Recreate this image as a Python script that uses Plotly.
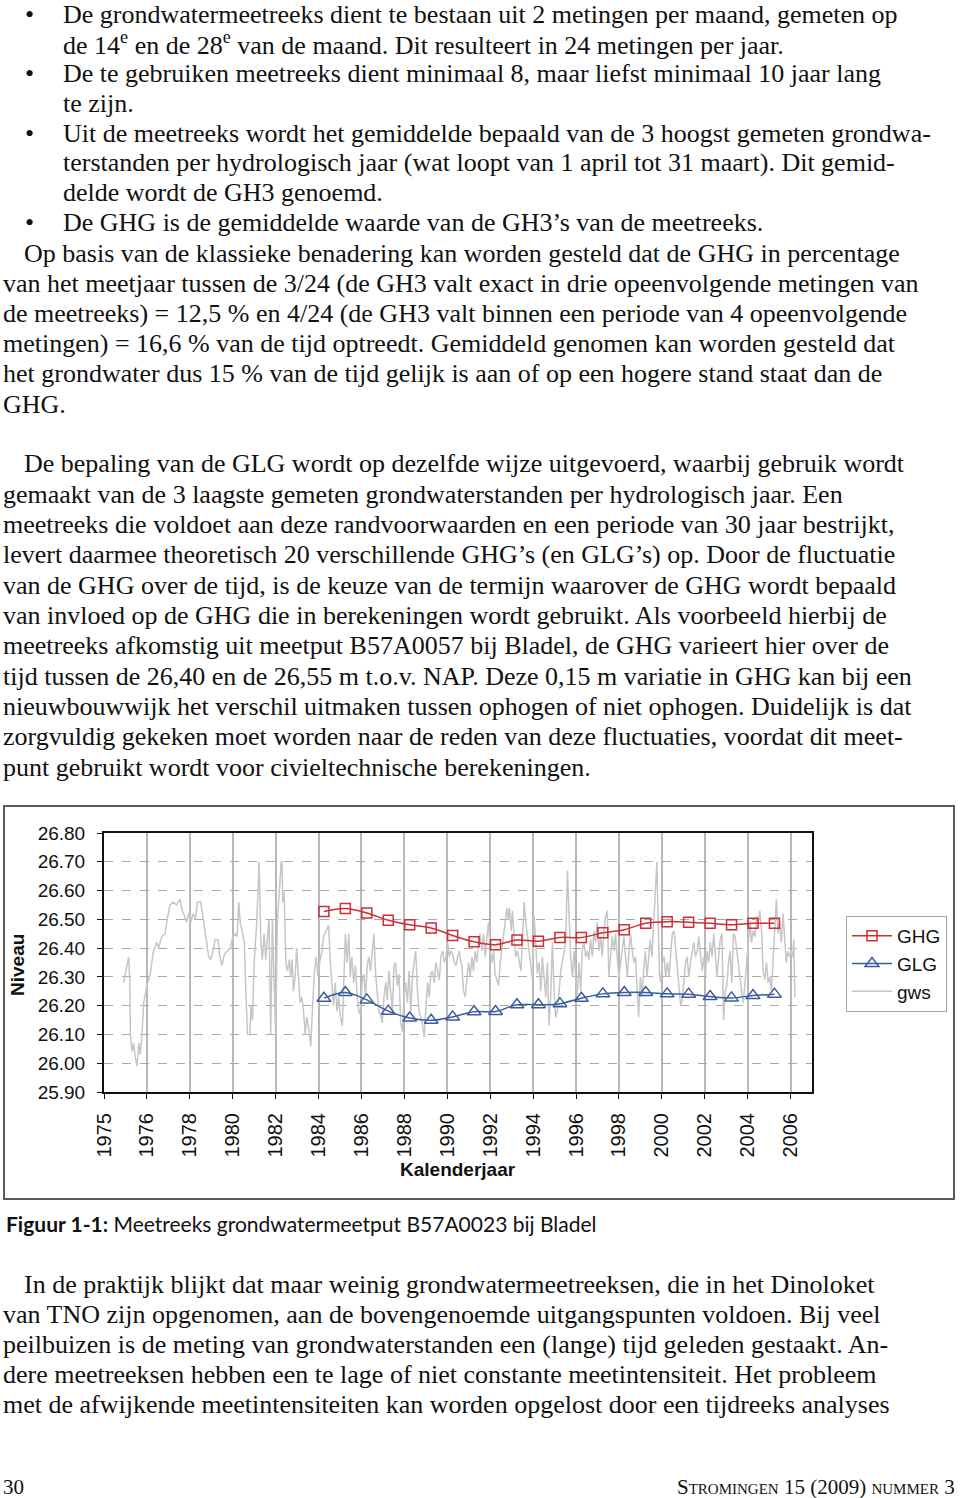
import plotly.graph_objects as go

# ---- chart data ----
tick_vals = [1974, 1976, 1978, 1980, 1982, 1984, 1986, 1988, 1990, 1992, 1994, 1996, 1998, 2000, 2002, 2004, 2006]
tick_text = ["1975", "1976", "1978", "1980", "1982", "1984", "1986", "1988", "1990", "1992", "1994", "1996", "1998",
             "2000", "2002", "2004", "2006"]

ghg_year = [1984.25, 1985.25, 1986.25, 1987.25, 1988.25, 1989.25, 1990.25, 1991.25, 1992.25, 1993.25, 1994.25,
            1995.25, 1996.25, 1997.25, 1998.25, 1999.25, 2000.25, 2001.25, 2002.25, 2003.25, 2004.25, 2005.25]
ghg = [26.527, 26.538, 26.522, 26.497, 26.481, 26.470, 26.444, 26.422, 26.412, 26.428, 26.424,
       26.437, 26.437, 26.453, 26.464, 26.486, 26.492, 26.490, 26.486, 26.481, 26.486, 26.486]
glg = [26.226, 26.246, 26.220, 26.181, 26.157, 26.149, 26.161, 26.179, 26.180, 26.203, 26.203,
       26.207, 26.226, 26.241, 26.246, 26.246, 26.241, 26.240, 26.232, 26.227, 26.235, 26.240]

gws_year = [
    1974.92, 1975.00, 1975.08, 1975.15, 1975.20, 1975.23, 1975.31, 1975.38, 1975.46, 1975.54,
    1975.62, 1975.69, 1975.77, 1975.85, 1976.00, 1976.15, 1976.31, 1976.46, 1976.54, 1976.69,
    1976.85, 1976.92, 1977.08, 1977.23, 1977.38, 1977.54, 1977.65, 1977.77, 1977.85, 1977.95,
    1978.05, 1978.15, 1978.26, 1978.35, 1978.51, 1978.62, 1978.77, 1978.88, 1978.97, 1979.08,
    1979.18, 1979.31, 1979.38, 1979.49, 1979.62, 1979.74, 1979.89, 1980.00, 1980.11, 1980.20,
    1980.28, 1980.35, 1980.46, 1980.54, 1980.62, 1980.69, 1980.80, 1980.85, 1980.92, 1981.00,
    1981.12, 1981.23, 1981.31, 1981.38, 1981.46, 1981.54, 1981.62, 1981.69, 1981.77, 1981.85,
    1981.92, 1982.00, 1982.08, 1982.18, 1982.26,
    1982.30, 1982.33, 1982.39, 1982.44, 1982.48, 1982.55, 1982.64, 1982.70, 1982.77, 1982.83,
    1982.91, 1982.98, 1983.06, 1983.14, 1983.22, 1983.30, 1983.38, 1983.45, 1983.53, 1983.64,
    1983.73, 1983.81, 1983.89, 1983.97, 1984.05, 1984.16, 1984.23, 1984.36, 1984.47,
    1984.55, 1984.63, 1984.70, 1984.78, 1984.86, 1984.94, 1985.02, 1985.11, 1985.17, 1985.25,
    1985.33, 1985.41, 1985.48, 1985.55,
    1985.64, 1985.72, 1985.80, 1985.88, 1985.95, 1986.03, 1986.11, 1986.19, 1986.27, 1986.34,
    1986.42, 1986.50, 1986.58, 1986.66, 1986.73, 1986.81, 1986.89, 1986.97, 1987.05, 1987.13,
    1987.20, 1987.28, 1987.36, 1987.44, 1987.52, 1987.59, 1987.67, 1987.75, 1987.83, 1987.91,
    1987.98, 1988.06, 1988.14, 1988.22, 1988.30, 1988.38, 1988.45, 1988.53, 1988.61, 1988.69,
    1988.77, 1988.84, 1988.92, 1989.00, 1989.08, 1989.16, 1989.23, 1989.31, 1989.39, 1989.47,
    1989.55, 1989.63, 1989.70, 1989.78, 1989.86, 1989.94, 1990.02, 1990.09, 1990.17, 1990.25,
    1990.33, 1990.41, 1990.48, 1990.56, 1990.64,
    1990.68, 1990.76, 1990.84, 1990.91, 1990.99, 1991.07, 1991.15, 1991.22, 1991.30, 1991.38,
    1991.46, 1991.53, 1991.61, 1991.69, 1991.77, 1991.84, 1991.92, 1992.00, 1992.08, 1992.16,
    1992.23, 1992.31, 1992.39, 1992.47, 1992.54, 1992.62, 1992.70, 1992.78, 1992.85, 1992.90,
    1992.98, 1993.04, 1993.12, 1993.19, 1993.27, 1993.35, 1993.43, 1993.50, 1993.58, 1993.66,
    1993.74, 1993.81, 1993.89, 1993.97, 1994.05, 1994.12, 1994.20, 1994.28, 1994.36, 1994.43,
    1994.51, 1994.59, 1994.67, 1994.74, 1994.82, 1994.90, 1994.98, 1995.05, 1995.13, 1995.21,
    1995.29, 1995.36, 1995.44, 1995.52, 1995.60, 1995.67, 1995.75, 1995.83, 1995.91, 1995.98,
    1996.06, 1996.14, 1996.22, 1996.29, 1996.37, 1996.45, 1996.53, 1996.60, 1996.68, 1996.76,
    1996.84, 1996.91, 1996.99, 1997.07, 1997.15, 1997.22, 1997.30, 1997.38, 1997.46, 1997.53,
    1997.61, 1997.69, 1997.77, 1997.84, 1997.92, 1998.00, 1998.08, 1998.16, 1998.23, 1998.31,
    1998.39, 1998.47, 1998.54, 1998.62, 1998.70,
    1998.77, 1998.85, 1998.92, 1999.00, 1999.08, 1999.15, 1999.23, 1999.31, 1999.38, 1999.46,
    1999.54, 1999.62, 1999.69, 1999.77, 1999.83, 1999.89, 1999.95, 2000.03, 2000.11, 2000.18,
    2000.26, 2000.34, 2000.42, 2000.49, 2000.57, 2000.65, 2000.72, 2000.80, 2000.88, 2000.95,
    2001.03, 2001.11, 2001.18, 2001.26, 2001.34, 2001.42, 2001.49, 2001.57, 2001.65, 2001.72,
    2001.80, 2001.88, 2001.95, 2002.03, 2002.11, 2002.18, 2002.26, 2002.34, 2002.42, 2002.49,
    2002.57, 2002.65, 2002.72, 2002.80, 2002.88, 2002.95, 2003.03, 2003.11, 2003.18, 2003.26,
    2003.34, 2003.42, 2003.49, 2003.57, 2003.65, 2003.72, 2003.80, 2003.88, 2003.95, 2004.03,
    2004.11, 2004.18, 2004.26, 2004.34, 2004.42, 2004.49, 2004.57, 2004.65, 2004.72, 2004.80,
    2004.88, 2004.95, 2005.03, 2005.11, 2005.18, 2005.26, 2005.34, 2005.42, 2005.49, 2005.57,
    2005.65, 2005.72, 2005.80, 2005.88, 2005.95, 2006.03, 2006.11, 2006.15, 2006.20,
]
gws_level = [
    26.28, 26.31, 26.34, 26.37, 26.29, 26.10, 26.04, 26.07, 26.02, 25.99,
    26.07, 26.03, 26.10, 26.21, 26.27, 26.31, 26.39, 26.42, 26.40, 26.44,
    26.45, 26.49, 26.55, 26.56, 26.55, 26.57, 26.53, 26.51, 26.49, 26.52,
    26.49, 26.52, 26.50, 26.56, 26.56, 26.50, 26.42, 26.37, 26.36, 26.39,
    26.43, 26.43, 26.38, 26.34, 26.38, 26.39, 26.40, 26.44, 26.45, 26.44,
    26.56, 26.49, 26.45, 26.42, 26.23, 26.10, 26.10, 26.20, 26.15, 26.35,
    26.49, 26.70, 26.42, 26.36, 26.45, 26.36, 26.44, 26.50, 26.10, 26.50,
    26.30, 26.10, 26.49, 26.62, 26.70,
    26.70, 26.56, 26.60, 26.49, 26.35, 26.32, 26.36, 26.30, 26.36, 26.25,
    26.30, 26.40, 26.29, 26.21, 26.23, 26.18, 26.10, 26.16, 26.13, 26.06,
    26.21, 26.32, 26.37, 26.30, 26.35, 26.39, 26.44, 26.46, 26.48,
    26.35, 26.25, 26.20, 26.28, 26.18, 26.23, 26.16, 26.13, 26.25, 26.45,
    26.35, 26.45, 26.30, 26.37,
    26.28, 26.34, 26.23, 26.18, 26.17, 26.28, 26.31, 26.23, 26.34, 26.37,
    26.32, 26.39, 26.45, 26.31, 26.25, 26.18, 26.17, 26.14, 26.23, 26.28,
    26.22, 26.32, 26.25, 26.18, 26.34, 26.35, 26.27, 26.31, 26.14, 26.11,
    26.23, 26.28, 26.21, 26.32, 26.18, 26.30, 26.35, 26.39, 26.25, 26.18,
    26.16, 26.14, 26.09, 26.18, 26.28, 26.23, 26.31, 26.32, 26.28, 26.35,
    26.32, 26.29, 26.37, 26.39, 26.35, 26.37, 26.42, 26.37, 26.39, 26.38,
    26.35, 26.34, 26.37, 26.39, 26.35,
    26.34, 26.25, 26.23, 26.29, 26.35, 26.30, 26.37, 26.32, 26.39, 26.35,
    26.42, 26.45, 26.39, 26.45, 26.37, 26.43, 26.49, 26.40, 26.35, 26.39,
    26.31, 26.29, 26.27, 26.35, 26.39, 26.44, 26.49, 26.54, 26.50, 26.54,
    26.46, 26.53, 26.43, 26.37, 26.39, 26.35, 26.32, 26.42, 26.56, 26.49,
    26.44, 26.39, 26.35, 26.29, 26.51, 26.39, 26.31, 26.35, 26.25, 26.37,
    26.29, 26.23, 26.35, 26.13, 26.23, 26.42, 26.25, 26.16, 26.18, 26.25,
    26.32, 26.35, 26.39, 26.42, 26.67, 26.49, 26.37, 26.30, 26.39, 26.30,
    26.24, 26.35, 26.25, 26.39, 26.42, 26.37, 26.39, 26.36, 26.43, 26.37,
    26.46, 26.42, 26.49, 26.39, 26.44, 26.37, 26.46, 26.51, 26.53, 26.30,
    26.37, 26.44, 26.39, 26.45, 26.37, 26.30, 26.35, 26.39, 26.44, 26.37,
    26.30, 26.39, 26.45, 26.39, 26.35,
    26.37, 26.25, 26.16, 26.30, 26.23, 26.32, 26.39, 26.30, 26.35, 26.43,
    26.37, 26.49, 26.60, 26.70, 26.49, 26.31, 26.28, 26.35, 26.37, 26.30,
    26.35, 26.30, 26.39, 26.45, 26.46, 26.39, 26.32, 26.25, 26.20, 26.22,
    26.28, 26.35, 26.37, 26.30, 26.35, 26.39, 26.42, 26.37, 26.39, 26.44,
    26.37, 26.32, 26.37, 26.30, 26.39, 26.35, 26.42, 26.37, 26.45, 26.39,
    26.30, 26.37, 26.43, 26.45, 26.15, 26.25, 26.27, 26.35, 26.39, 26.28,
    26.45, 26.44, 26.39, 26.35, 26.30, 26.25, 26.21, 26.28, 26.35, 26.42,
    26.49, 26.42, 26.46, 26.44, 26.51, 26.49, 26.53, 26.46, 26.32, 26.29,
    26.35, 26.28, 26.30, 26.25, 26.35, 26.49, 26.57, 26.45, 26.49, 26.42,
    26.52, 26.44, 26.35, 26.39, 26.37, 26.39, 26.37, 26.43, 26.23,
]

# ---- page text ----
bullet_lines = [
    ("•", "De grondwatermeetreeks dient te bestaan uit 2 metingen per maand, gemeten op"),
    ("", "de 14<sup>e</sup> en de 28<sup>e</sup> van de maand. Dit resulteert in 24 metingen per jaar."),
    ("•", "De te gebruiken meetreeks dient minimaal 8, maar liefst minimaal 10 jaar lang"),
    ("", "te zijn."),
    ("•", "Uit de meetreeks wordt het gemiddelde bepaald van de 3 hoogst gemeten grondwa-"),
    ("", "terstanden per hydrologisch jaar (wat loopt van 1 april tot 31 maart). Dit gemid-"),
    ("", "delde wordt de GH3 genoemd."),
    ("•", "De GHG is de gemiddelde waarde van de GH3’s van de meetreeks."),
]
para1 = [
    "Op basis van de klassieke benadering kan worden gesteld dat de GHG in percentage",
    "van het meetjaar tussen de 3/24 (de GH3 valt exact in drie opeenvolgende metingen van",
    "de meetreeks) = 12,5 % en 4/24 (de GH3 valt binnen een periode van 4 opeenvolgende",
    "metingen) = 16,6 % van de tijd optreedt. Gemiddeld genomen kan worden gesteld dat",
    "het grondwater dus 15 % van de tijd gelijk is aan of op een hogere stand staat dan de",
    "GHG.",
]
para2 = [
    "De bepaling van de GLG wordt op dezelfde wijze uitgevoerd, waarbij gebruik wordt",
    "gemaakt van de 3 laagste gemeten grondwaterstanden per hydrologisch jaar. Een",
    "meetreeks die voldoet aan deze randvoorwaarden en een periode van 30 jaar bestrijkt,",
    "levert daarmee theoretisch 20 verschillende GHG’s (en GLG’s) op. Door de fluctuatie",
    "van de GHG over de tijd, is de keuze van de termijn waarover de GHG wordt bepaald",
    "van invloed op de GHG die in berekeningen wordt gebruikt. Als voorbeeld hierbij de",
    "meetreeks afkomstig uit meetput B57A0057 bij Bladel, de GHG varieert hier over de",
    "tijd tussen de 26,40 en de 26,55 m t.o.v. NAP. Deze 0,15 m variatie in GHG kan bij een",
    "nieuwbouwwijk het verschil uitmaken tussen ophogen of niet ophogen. Duidelijk is dat",
    "zorgvuldig gekeken moet worden naar de reden van deze fluctuaties, voordat dit meet-",
    "punt gebruikt wordt voor civieltechnische berekeningen.",
]
para3 = [
    "In de praktijk blijkt dat maar weinig grondwatermeetreeksen, die in het Dinoloket",
    "van TNO zijn opgenomen, aan de bovengenoemde uitgangspunten voldoen. Bij veel",
    "peilbuizen is de meting van grondwaterstanden een (lange) tijd geleden gestaakt. An-",
    "dere meetreeksen hebben een te lage of niet constante meetintensiteit. Het probleem",
    "met de afwijkende meetintensiteiten kan worden opgelost door een tijdreeks analyses",
]
caption = "<b>Figuur 1-1:</b> Meetreeks grondwatermeetput B57A0023 bij Bladel"

W, H = 960, 1498
SERIF = "Liberation Serif"
SANS = "Liberation Sans"


def px(x):
    return x / W


def py(y):
    return 1 - y / H


fig = go.Figure()

fig.add_trace(go.Scatter(x=gws_year, y=gws_level, mode="lines", name="gws", legendrank=3,
                         line=dict(color="#c6c6c6", width=1.5)))
fig.add_trace(go.Scatter(x=ghg_year, y=ghg, mode="lines+markers", name="GHG", legendrank=1,
                         line=dict(color="#cc2f36", width=1.5, shape="spline"),
                         marker=dict(symbol="square-open", size=10, color="#cc2f36", line=dict(width=1.5))))
fig.add_trace(go.Scatter(x=ghg_year, y=glg, mode="lines+markers", name="GLG", legendrank=2,
                         line=dict(color="#3b5c9c", width=1.5, shape="spline"),
                         marker=dict(symbol="triangle-up-open", size=12, color="#3b5c9c", line=dict(width=1.5))))

annotations = []


def text_line(x, y, s, size=26, family=SERIF, anchor="left", **kw):
    annotations.append(dict(xref="paper", yref="paper", x=px(x), y=py(y), text=s, showarrow=False,
                            xanchor=anchor, yanchor="middle", borderpad=0,
                            font=dict(family=family, size=size, color="#111"), **kw))


for i, (b, s) in enumerate(bullet_lines):
    y = 14 + i * 29.8
    if b:
        text_line(24, y, b)
    text_line(62, y, s)

for i, s in enumerate(para1):
    text_line(23 if i == 0 else 2, 253 + i * 30.2, s)
for i, s in enumerate(para2):
    text_line(23 if i == 0 else 2, 464 + i * 30.3, s)
for i, s in enumerate(para3):
    text_line(23 if i == 0 else 2, 1284 + i * 30.2, s)

text_line(5, 1223, caption, size=21, family="Lato")
text_line(2, 1487, "30", size=21)
text_line(956, 1487, "S<span style='font-size:15px'>TROMINGEN</span> 15 (2009) "
                     "<span style='font-size:15px'>NUMMER</span> 3", size=21, anchor="right")

# axis titles
text_line(18, 965, "<b>Niveau</b>", size=19, family=SANS, anchor="center", textangle=-90)
text_line(458, 1169, "<b>Kalenderjaar</b>", size=19, family=SANS, anchor="center")

fig.update_layout(
    width=W, height=H, autosize=False,
    margin=dict(l=0, r=0, t=0, b=0, pad=0, autoexpand=False),
    paper_bgcolor="white", plot_bgcolor="white",
    annotations=annotations,
    showlegend=True,
    legend=dict(x=px(846), y=py(916), xanchor="left", yanchor="top", itemwidth=40,
                bgcolor="white", bordercolor="#a6a6a6", borderwidth=1,
                font=dict(family=SANS, size=19, color="#111"), tracegroupgap=0),
    shapes=[dict(type="rect", xref="paper", yref="paper", x0=px(4), x1=px(954), y0=py(1199), y1=py(806),
                 line=dict(color="#5a5a5a", width=2), layer="below")],
    xaxis=dict(domain=[px(104), px(812)], range=[1974, 2007], automargin=False,
               tickmode="array", tickvals=tick_vals, ticktext=tick_text, tickangle=-90,
               tickfont=dict(family=SANS, size=20, color="#111"),
               showgrid=True, gridcolor="#b8b8b8", gridwidth=1.5,
               showline=True, linecolor="#111", linewidth=2, mirror=True,
               ticks="outside", ticklen=5, tickcolor="#111", zeroline=False, ticklabelstandoff=6),
    yaxis=dict(domain=[py(1092), py(833)], range=[25.9, 26.8], automargin=False,
               tick0=25.9, dtick=0.1, tickformat=".2f",
               tickfont=dict(family=SANS, size=19, color="#111"),
               showgrid=True, gridcolor="#a8a8a8", gridwidth=1, griddash="dash",
               showline=True, linecolor="#111", linewidth=2, mirror=True,
               ticks="outside", ticklen=5, tickcolor="#111", zeroline=False, ticklabelstandoff=8),
)

# drop the default 8px page margin so the figure sits at the window's top-left corner
fig.write_html("out.html", config={"displayModeBar": False},
               post_script="document.body.style.margin='0';")
